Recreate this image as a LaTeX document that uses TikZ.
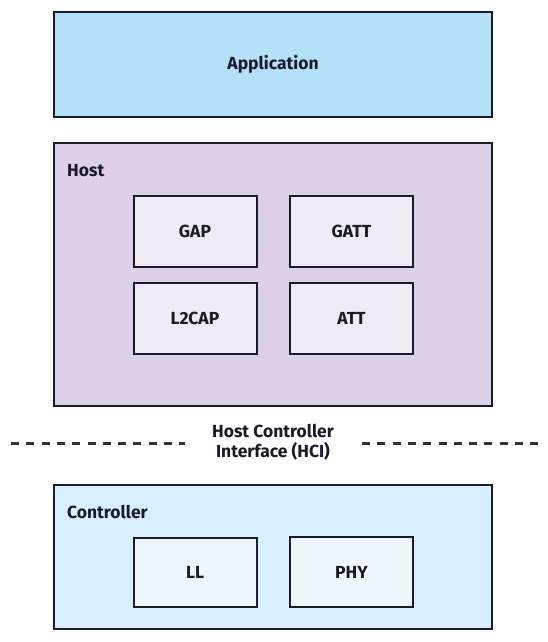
\documentclass[tikz,border=0pt]{standalone}
\usepackage{fontspec}
\setmainfont{Fira Sans}
\definecolor{edge}{HTML}{1B1B2B}
\definecolor{appfill}{HTML}{B4E0F8}
\definecolor{hostfill}{HTML}{DCCFE6}
\definecolor{hostin}{HTML}{EFEAF5}
\definecolor{ctrlfill}{HTML}{DAEFFC}
\definecolor{ctrlin}{HTML}{EEF7FE}
\definecolor{txt}{HTML}{1A1A28}
\definecolor{dashcol}{HTML}{333338}
\begin{document}
\begin{tikzpicture}[x=1pt,y=-1pt,
  box/.style={draw=edge,line width=2pt,rectangle,inner sep=0pt,text=txt,font=\fontsize{17.5}{21}\selectfont\bfseries},
  layer/.style={box,minimum width=438pt},
  inner/.style={box,minimum width=123pt,minimum height=70pt},
  lbl/.style={anchor=west,inner sep=0pt,text=txt,font=\fontsize{17.5}{21}\selectfont\bfseries},
  hcidash/.style={draw=dashcol,line width=3pt,dash pattern=on 8pt off 7.3pt}]
\useasboundingbox (0,0) rectangle (547,642);
\fill[white] (0,0) rectangle (547,642);
\node[layer,fill=appfill,minimum height=105pt] (app) at (273,64.5) {Application};
\node[layer,fill=hostfill,minimum height=263pt] (host) at (273,274.5) {};
\node[lbl] (hostlbl) at (67,171) {Host};
\node[inner,fill=hostin,minimum height=71pt] (gap) at (195,231.5) {GAP};
\node[inner,fill=hostin,minimum height=71pt] (gatt) at (351.5,231.5) {GATT};
\node[inner,fill=hostin,minimum height=71pt] (l2cap) at (195,318.5) {L2CAP};
\node[inner,fill=hostin,minimum height=71pt] (att) at (351.5,318.5) {ATT};
\node[align=center,inner sep=0pt,text=txt,font=\fontsize{17.5}{19.5}\selectfont\bfseries] (hci) at (273,442) {Host Controller\\Interface (HCI)};
\coordinate (dl1) at (11,443);
\coordinate (dl2) at (185,443);
\coordinate (dr1) at (362,443);
\coordinate (dr2) at (540,443);
\draw[hcidash] (dl1) -- (dl2);
\draw[hcidash] (dr1) -- (dr2);
\node[layer,fill=ctrlfill,minimum height=144pt] (ctrl) at (273,557) {};
\node[lbl] (ctrllbl) at (67,512) {Controller};
\node[inner,fill=ctrlin,minimum height=69pt] (ll) at (195,572.5) {LL};
\node[inner,fill=ctrlin] (phy) at (351.5,572) {PHY};
\end{tikzpicture}
\end{document}
